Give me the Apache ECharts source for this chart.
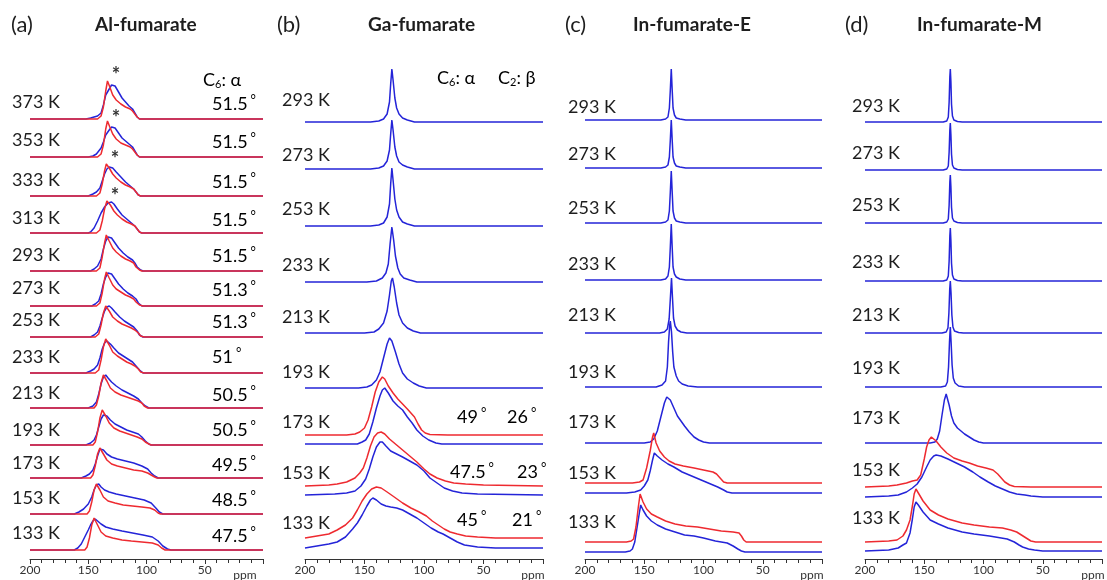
<!DOCTYPE html>
<html><head><meta charset="utf-8">
<script src="https://cdn.jsdelivr.net/npm/echarts@6/dist/echarts.min.js"></script>
<style>html,body{margin:0;padding:0;background:#fff}#c{width:1107px;height:580px}</style>
</head><body><div id="c"></div>
<script>
// ---------------- DATA ----------------
// x = chemical shift (ppm); y = intensity (arbitrary units), each spectrum stacked on its baseline level
const ppmTicks = [200, 150, 100, 50];

// (a) Al-fumarate
const aTemps = ['373 K','353 K','333 K','313 K','293 K','273 K','253 K','233 K','213 K','193 K','173 K','153 K','133 K'];
const aAngles = ['51.5','51.5','51.5','51.5','51.5','51.3','51.3','51','50.5','50.5','49.5','48.5','47.5'];
const aBase = [440,402,363,326,288,253,222,186,151,114,81,45,9];
const aStarred = ['373 K','353 K','333 K','313 K'];
const aExp = [
 [[200,0],[152,0],[148,1],[145,2],[142,3],[139,6],[137,14],[135,24],[132,30],[130,34],[129,36],[127,33],[124,27],[121,21],[118,17],[115,13],[112,10],[110,6],[108,2],[106,0],[0,0]],
 [[200,0],[150,0],[146,1],[143,3],[141,6],[139,9],[137,15],[135,22],[132,27],[130,30],[129,31],[127,29],[124,24],[121,19],[118,16],[115,13],[112,10],[110,6],[108,2],[106,0],[0,0]],
 [[200,0],[150,0],[146,2],[143,4],[140,8],[138,15],[136,22],[134,27],[132,29],[131,30],[129,28],[126,24],[122,19],[118,14],[114,10],[111,7],[109,4],[107,1],[105,0],[0,0]],
 [[200,0],[150,0],[148,1],[145,5],[142,12],[139,20],[136,26],[133,30],[130,31],[128,29],[125,24],[121,18],[117,14],[113,10],[110,7],[108,4],[106,1],[104,0],[0,0]],
 [[200,0],[148,0],[145,2],[142,5],[139,12],[137,22],[135,30],[133,34],[132,35],[130,33],[127,28],[124,23],[120,18],[116,14],[112,11],[110,8],[108,4],[105,1],[103,0],[0,0]],
 [[200,0],[147,0],[144,2],[141,5],[139,12],[137,22],[135,29],[133,33],[132,34],[130,32],[127,27],[124,22],[120,17],[116,13],[112,10],[109,7],[107,3],[104,0],[0,0]],
 [[200,0],[148,0],[145,2],[142,5],[140,11],[138,19],[136,26],[134,30],[132,31],[130,29],[127,25],[123,20],[119,16],[115,13],[111,10],[108,6],[106,2],[103,0],[0,0]],
 [[200,0],[152,0],[148,2],[145,4],[142,8],[140,15],[138,24],[136,30],[134,32],[133,32],[131,29],[128,25],[124,20],[120,17],[116,14],[112,11],[109,7],[106,3],[103,0],[0,0]],
 [[200,0],[150,0],[146,2],[143,6],[141,14],[139,24],[137,31],[135,33],[133,30],[130,26],[126,22],[121,18],[116,15],[111,12],[107,9],[104,5],[101,2],[98,0],[0,0]],
 [[200,0],[152,0],[148,2],[145,5],[143,10],[141,18],[139,26],[137,30],[136,31],[134,29],[131,25],[127,21],[122,18],[117,15],[112,13],[107,11],[104,8],[101,4],[98,1],[96,0],[0,0]],
 [[200,0],[156,0],[152,2],[149,4],[146,8],[144,14],[142,22],[140,29],[139,31],[137,28],[134,24],[130,21],[125,19],[118,17],[111,15],[104,12],[99,9],[96,5],[93,2],[90,0],[0,0]],
 [[200,0],[162,0],[158,2],[154,5],[150,10],[147,17],[145,24],[143,29],[141,30],[139,27],[136,24],[132,22],[126,20],[118,18],[110,16],[102,14],[96,11],[92,6],[89,2],[86,0],[0,0]],
 [[200,0],[162,0],[159,2],[156,6],[153,13],[150,20],[148,25],[146,29],[144,31],[142,29],[139,26],[135,23],[129,21],[121,19],[112,17],[103,15],[95,13],[90,9],[86,4],[82,1],[79,0],[0,0]]
];
const aSim = [
 [[200,0],[142,0],[139,3],[137,12],[135,28],[133.5,38],[133,40],[131.5,32],[129,24],[126,19],[122,15],[118,12],[114,10],[112,8],[110,5],[108,2],[106,0],[0,0]],
 [[200,0],[142,0],[139,3],[137,12],[135,28],[133.5,36],[133,38],[131.5,30],[129,23],[126,18],[122,14],[118,12],[114,10],[112,8],[110,5],[108,2],[106,0],[0,0]],
 [[200,0],[143,0],[140,3],[138,12],[136,25],[134.5,32],[134,33],[132,28],[129,22],[126,18],[122,14],[118,11],[114,9],[111,7],[109,4],[107,1],[105,0],[0,0]],
 [[200,0],[143,0],[140,3],[138,12],[136,24],[134,32],[133,33],[131,28],[128,22],[125,18],[121,14],[117,11],[113,9],[110,7],[108,4],[106,1],[104,0],[0,0]],
 [[200,0],[143,0],[140,3],[138,14],[136,28],[134.5,36],[134,37],[132,30],[129,23],[126,19],[122,15],[118,12],[114,10],[111,8],[109,4],[106,1],[104,0],[0,0]],
 [[200,0],[143,0],[140,3],[138,13],[136,27],[134.5,34],[134,35],[132,28],[129,21],[126,17],[122,14],[118,11],[114,9],[111,7],[109,4],[106,1],[103,0],[0,0]],
 [[200,0],[144,0],[141,3],[139,12],[137,24],[135,31],[134,32],[132,26],[129,20],[125,16],[121,13],[117,11],[113,9],[110,7],[107,4],[105,1],[102,0],[0,0]],
 [[200,0],[144,0],[141,3],[139,13],[137,26],[135,34],[134,35],[132,28],[129,21],[125,17],[121,14],[117,11],[113,9],[110,7],[107,4],[105,1],[102,0],[0,0]],
 [[200,0],[145,0],[143,3],[141,12],[139,25],[137,33],[136,34],[134,27],[131,20],[127,16],[122,13],[117,11],[112,9],[107,7],[104,5],[102,2],[99,0],[0,0]],
 [[200,0],[146,0],[144,3],[142,13],[140,27],[138,35],[137,37],[135,29],[132,22],[128,17],[123,14],[118,12],[113,10],[108,8],[104,6],[101,3],[98,1],[96,0],[0,0]],
 [[200,0],[148,0],[146,3],[144,12],[142,24],[140,30],[139,31],[137,24],[134,18],[130,14],[125,12],[118,10],[111,8],[104,7],[99,5],[96,3],[93,1],[91,0],[0,0]],
 [[200,0],[151,0],[149,3],[147,12],[145,24],[143,30],[142,31],[140,24],[137,17],[133,13],[127,11],[120,9],[112,8],[104,7],[97,6],[93,4],[90,1],[88,0],[0,0]],
 [[200,0],[153,0],[151,3],[149,12],[147,25],[145,32],[144,33],[142,25],[139,18],[135,14],[129,12],[121,10],[113,9],[104,8],[95,7],[90,5],[87,2],[84,0],[0,0]]
];

// (b) Ga-fumarate
const bTemps = ['293 K','273 K','253 K','233 K','213 K','193 K','173 K','153 K','133 K'];
const bAngles = [null,null,null,null,null,null,['49','26'],['47.5','23'],['45','21']];
const bBaseExp = [437,390,333,277,226,171,115,64,11];
const bBaseSim = [null,null,null,null,null,null,124,73,21];
const bExp = [
 [[200,0],[145,0],[138,1],[134,3],[131,8],[129,20],[128,38],[127,53],[126,42],[124.5,24],[123,14],[121,8],[118,4],[114,2],[108,0],[0,0]],
 [[200,0],[145,0],[138,1],[134,3],[131,8],[129,19],[128,35],[127,49],[126,39],[124.5,22],[123,13],[121,7],[118,4],[114,2],[108,0],[0,0]],
 [[200,0],[145,0],[138,1],[134,3],[131,9],[129,22],[128,42],[127,58],[126,46],[124.5,27],[123,16],[121,9],[118,4],[114,2],[108,0],[0,0]],
 [[200,0],[148,0],[140,1],[135,4],[132,9],[130,18],[128.5,38],[127,55],[125.5,42],[124,26],[122,14],[120,8],[117,4],[112,2],[106,0],[0,0]],
 [[200,0],[150,0],[142,1],[138,4],[134,10],[131,22],[129,38],[127.5,52],[126.5,55],[125,46],[123,30],[121,18],[118,10],[114,5],[109,2],[103,0],[0,0]],
 [[200,0],[155,0],[148,1],[144,3],[140,8],[137,16],[134,30],[131,44],[129,50],[127,47],[124,36],[121,24],[118,15],[114,9],[109,5],[104,2],[98,0],[0,0]],
 [[200,0],[156,0],[152,2],[149,4],[146,10],[143,22],[140,36],[137,48],[135,54],[133,56],[130,51],[126,43],[122,38],[118,34],[114,27],[110,21],[106,14],[101,8],[96,4],[90,1],[85,0],[0,0]],
 [[200,0],[175,1],[165,2],[158,4],[153,9],[149,16],[146,26],[143,38],[140,48],[137,53],[135,53],[132,49],[128,44],[123,41],[118,38],[112,34],[106,30],[100,24],[95,17],[89,12],[83,7],[76,4],[68,2],[55,1],[0,0]],
 [[200,0],[190,2],[180,4],[173,6],[166,11],[160,19],[156,25],[152,33],[148,42],[145,48],[143,50],[140,48],[136,44],[132,42],[128,41],[123,40],[118,38],[112,34],[106,30],[100,25],[94,20],[88,16],[84,14],[78,10],[72,6],[66,3],[55,1],[40,0],[0,0]]
];
const bSim = [null,null,null,null,null,null,
 [[200,0],[165,0],[158,1],[154,3],[150,7],[147,15],[144,28],[141,43],[138,53],[135,58],[133,56],[130,49],[126,42],[122,36],[118,31],[114,26],[111,22],[108,18],[105,11],[102,5],[99,2],[95,0.5],[80,0],[0,0]],
 [[200,0],[180,1],[173,2],[165,4],[158,8],[154,13],[151,18],[148,28],[145,40],[142,49],[139,53],[136,54],[133,52],[129,47],[124,42],[118,36],[112,30],[106,24],[100,17],[95,12],[89,8],[82,5],[75,3],[65,2],[50,1],[0,0]],
 [[200,0],[190,2],[180,4],[173,8],[166,13],[160,20],[156,28],[152,37],[148,44],[144,49],[140,51],[136,50],[131,46],[125,41],[118,35],[111,30],[104,26],[98,22],[93,17],[88,13],[83,9],[78,6],[72,4],[65,2],[55,1],[40,0],[0,0]]
];

// (c) In-fumarate-E
const cTemps = ['293 K','273 K','253 K','233 K','213 K','193 K','173 K','153 K','133 K'];
const cBaseExp = [439,391,336,279,226,172,116,66,7];
const cBaseSim = [null,null,null,null,null,null,null,76,17];
const cExp = [
 [[200,0],[136,0],[132,1],[130,3],[128.8,12],[128,30],[127.2,51],[126.5,32],[125.7,12],[124.5,5],[123,2],[120,1],[115,0],[0,0]],
 [[200,0],[136,0],[132,1],[130,3],[128.8,11],[128,28],[127.2,48],[126.5,30],[125.7,11],[124.5,5],[123,2],[120,1],[115,0],[0,0]],
 [[200,0],[136,0],[132,1],[130,3],[128.8,12],[128,31],[127.2,52],[126.5,33],[125.7,12],[124.5,5],[123,2],[120,1],[115,0],[0,0]],
 [[200,0],[136,0],[132,1],[130,4],[128.8,13],[128,33],[127.2,56],[126.5,35],[125.7,13],[124.5,6],[123,3],[120,1],[115,0],[0,0]],
 [[200,0],[137,0],[133,1],[130.5,4],[129,14],[128,34],[127,55],[126.2,36],[125.3,15],[124,7],[122,3],[119,1],[114,0],[0,0]],
 [[200,0],[140,0],[135,2],[132,6],[130.5,20],[129.5,45],[128.5,62],[128,66],[127,55],[126,35],[125,20],[123,11],[121,6],[118,3],[113,1],[105,0],[0,0]],
 [[200,0],[150,0],[145,1],[142,4],[139,12],[136,26],[133,40],[131,46],[130,47],[128,43],[125,35],[122,27],[119,22],[116,17],[112,11],[108,6],[104,3],[100,1],[95,0],[0,0]],
 [[200,0],[165,0],[158,1],[153,3],[150,7],[147,13],[145,22],[143,33],[141.5,40],[139,37],[135,33],[130,29],[125,26],[118,21],[112,18],[106,15],[100,12],[94,9],[88,6],[83,3],[80,1],[76,0],[0,0]],
 [[200,0],[166,0],[162,1],[160,3],[158,10],[156,25],[154,40],[153,47],[151,42],[148,36],[144,31],[139,27],[132,23],[124,20],[116,17],[108,16],[100,14],[90,11],[80,9],[75,6],[71,3],[68,1],[65,0],[0,0]]
];
const cSim = [null,null,null,null,null,null,null,
 [[200,0],[160,0],[154,1],[151,3],[148,15],[145,32],[143,46],[142,50],[140,40],[137,32],[133,26],[129,22],[124,19],[117,17],[108,15],[100,13],[92,11],[89,9],[86,5],[83,1],[80,0],[0,0]],
 [[200,0],[165,0],[161,1],[159,3],[157,15],[155,35],[153.5,48],[153,50],[151,40],[148,33],[144,28],[139,25],[132,21],[124,18],[115,16],[105,15],[95,13],[85,11],[75,10],[70,9],[68,6],[66,2],[64,0],[0,0]]
];

// (d) In-fumarate-M
const dTemps = ['293 K','273 K','253 K','233 K','213 K','193 K','173 K','153 K','133 K'];
const dBaseExp = [437,389,336,278,226,172,116,62,8];
const dBaseSim = [null,null,null,null,null,null,null,72,17];
const dExp = [
 [[200,0],[134,0],[131,1],[129.7,5],[129,20],[128.4,45],[128,53],[127.5,40],[127,18],[126.2,6],[125,2],[122,0.5],[118,0],[0,0]],
 [[200,0],[134,0],[131,1],[129.7,4],[129,18],[128.4,40],[128,47],[127.5,35],[127,16],[126.2,5],[125,2],[122,0.5],[118,0],[0,0]],
 [[200,0],[134,0],[131,1],[129.7,4],[129,18],[128.4,41],[128,48],[127.5,36],[127,16],[126.2,5],[125,2],[122,0.5],[118,0],[0,0]],
 [[200,0],[134,0],[131,1],[129.7,5],[129,20],[128.4,45],[128,53],[127.5,40],[127,18],[126.2,6],[125,2],[122,0.5],[118,0],[0,0]],
 [[200,0],[135,0],[131.5,1],[130,5],[129.2,20],[128.5,44],[128,52],[127.4,40],[126.7,18],[125.8,6],[124.5,2],[121,0.5],[117,0],[0,0]],
 [[200,0],[136,0],[132,1],[130.5,5],[129.5,20],[128.7,45],[128,60],[127.3,44],[126.5,22],[125.5,9],[124,4],[121,1],[116,0],[0,0]],
 [[200,0],[145,0],[141,1],[139,4],[137,12],[135,28],[133,43],[131.5,49],[130.5,47],[129,38],[127,27],[125,20],[122,15],[120,13],[116,9],[112,6],[108,3],[104,1],[100,0],[0,0]],
 [[200,0],[180,1],[172,2],[165,5],[160,9],[156,13],[152,20],[148,30],[145,37],[142,41],[140,42],[136,41],[130,38],[123,34],[116,30],[109,25],[103,20],[96,15],[90,11],[84,8],[78,5],[72,3],[65,2],[60,1],[50,0],[0,0]],
 [[200,0],[180,1],[172,3],[168,6],[165,8],[162,18],[160,32],[158.5,44],[157,49],[155,46],[151,39],[145,31],[138,27],[130,23],[118,19],[108,17],[95,15],[85,13],[80,12],[74,9],[70,6],[67,4],[62,2],[57,1],[50,0],[0,0]]
];
const dSim = [null,null,null,null,null,null,null,
 [[200,0],[180,1],[173,2],[165,4],[160,6],[156,7],[153,12],[150,28],[148,40],[146,47],[144,50],[142.6,51],[140,46],[136,40],[131,34],[125,29],[118,26],[112,24],[105,21],[98,19],[92,17],[88,13],[85,9],[82,5],[78,2],[74,0.5],[60,0],[0,0]],
 [[200,0],[180,1],[173,2],[168,6],[165,12],[162,22],[160,36],[158.5,48],[157,53],[155,49],[151,41],[145,32],[138,27],[130,23],[118,19],[108,17],[95,15],[84,14],[77,12],[72,10],[68,7],[64,4],[60,1],[56,0],[0,0]]
];

// ---------------- LAYOUT / STYLE ----------------
const BLUE = '#2424d8', RED = '#ee2a30', TXT = '#1e1e1e';
const FONT = 'Lato, "Open Sans", sans-serif';
const GRID_TOP = 50, GRID_H = 509;
const panels = [
  {left: 30,  width: 233, letter: '(a)', lx: 11,  title: 'Al-fumarate',   tx: 95,
   temps: aTemps, exp: aExp, sim: aSim, baseExp: aBase, baseSim: aBase,
   labelX: 12, labelY: [102,140,180,218,255,288,320,357,393,430,463,498,533], ppmX: 245},
  {left: 305, width: 238, letter: '(b)', lx: 277, title: 'Ga-fumarate',   tx: 368,
   temps: bTemps, exp: bExp, sim: bSim, baseExp: bBaseExp, baseSim: bBaseSim,
   labelX: 282, labelY: [100,155,209,265,317,372,422,473,523], ppmX: 533},
  {left: 585, width: 237, letter: '(c)', lx: 565, title: 'In-fumarate-E', tx: 633,
   temps: cTemps, exp: cExp, sim: cSim, baseExp: cBaseExp, baseSim: cBaseSim,
   labelX: 568, labelY: [107,154,208,264,315,372,422,473,522], ppmX: 812},
  {left: 865, width: 237, letter: '(d)', lx: 845, title: 'In-fumarate-M', tx: 917,
   temps: dTemps, exp: dExp, sim: dSim, baseExp: dBaseExp, baseSim: dBaseSim,
   labelX: 852, labelY: [106,153,205,262,315,368,418,470,518], ppmX: 1093}
];

const grids = [], xAxes = [], yAxes = [], series = [], graphics = [];
panels.forEach((p, i) => {
  grids.push({left: p.left, width: p.width, top: GRID_TOP, height: GRID_H});
  xAxes.push({
    gridIndex: i, type: 'value', min: 0, max: 200, inverse: true, interval: 50,
    axisLine: {show: true, lineStyle: {color: '#333', width: 1}},
    axisTick: {show: true, length: 5, lineStyle: {color: '#333'}},
    minorTick: {show: true, splitNumber: 5, length: 4, lineStyle: {color: '#333'}},
    splitLine: {show: false},
    axisLabel: {fontSize: 12, color: '#333', fontFamily: FONT, margin: 5,
      formatter: v => (ppmTicks.indexOf(v) >= 0 ? String(v) : '')}
  });
  yAxes.push({gridIndex: i, type: 'value', min: 0, max: GRID_H, show: false});
  p.exp.forEach((pts, k) => {
    series.push({type: 'line', xAxisIndex: i, yAxisIndex: i, showSymbol: false, silent: true,
      animation: false, z: 2, clip: false,
      lineStyle: {color: BLUE, width: 1.5},
      data: pts.map(q => [q[0], q[1] + p.baseExp[k]])});
  });
  p.sim.forEach((pts, k) => {
    if (!pts) return;
    series.push({type: 'line', xAxisIndex: i, yAxisIndex: i, showSymbol: false, silent: true,
      animation: false, z: 3, clip: false,
      lineStyle: {color: RED, width: 1.5},
      data: pts.map(q => [q[0], q[1] + p.baseSim[k]])});
  });
  graphics.push({type: 'text', x: p.lx, y: 25, style: {text: p.letter, font: '22px ' + FONT, fill: TXT, verticalAlign: 'middle'}});
  graphics.push({type: 'text', x: p.tx, y: 25, style: {text: p.title, font: 'bold 19px ' + FONT, fill: TXT, verticalAlign: 'middle'}});
  p.temps.forEach((t, k) => {
    graphics.push({type: 'text', x: p.labelX, y: p.labelY[k], style: {text: t, font: '18px ' + FONT, fill: TXT, verticalAlign: 'middle'}});
  });
  graphics.push({type: 'text', x: p.ppmX, y: 575, style: {text: 'ppm', font: '12px ' + FONT, fill: '#333', align: 'center', verticalAlign: 'middle'}});
});

const richDeg = {
  n: {fontSize: 18, fontFamily: FONT, color: TXT},
  d: {fontSize: 13, fontFamily: FONT, color: TXT, verticalAlign: 'top', padding: [0, 0, 8, 3]},
  c: {fontSize: 18, fontFamily: FONT, color: TXT},
  s: {fontSize: 11, fontFamily: FONT, color: TXT, padding: [8, 0, 0, 0]}
};
function degText(x, y, v) {
  graphics.push({type: 'text', x: x, y: y, style: {text: '{n|' + v + '}{d|°}', rich: richDeg, verticalAlign: 'middle'}});
}
// (a) angle column
const aAngleY = [104,142,182,220,256,290,322,357,395,430,465,500,536];
aAngles.forEach((v, k) => degText(212, aAngleY[k], v));
graphics.push({type: 'text', x: 203, y: 80, style: {text: '{c|C}{s|6}{c|: α}', rich: richDeg, verticalAlign: 'middle'}});
// asterisks (a)
const starPos = [[116, 76], [116, 119], [115, 160], [115, 197]];
aStarred.forEach((t, k) => graphics.push({type: 'text', x: starPos[k][0], y: starPos[k][1],
  style: {text: '*', font: 'bold 20px ' + FONT, fill: '#333', align: 'center', verticalAlign: 'middle'}}));
// (b) angle labels
graphics.push({type: 'text', x: 437, y: 78, style: {text: '{c|C}{s|6}{c|: α}', rich: richDeg, verticalAlign: 'middle'}});
graphics.push({type: 'text', x: 498, y: 78, style: {text: '{c|C}{s|2}{c|: β}', rich: richDeg, verticalAlign: 'middle'}});
const bAngleX = [[457, 507], [450, 517], [457, 512]];
const bAngleY = [417, 472, 520];
bAngles.forEach((pair, k) => {
  if (!pair) return;
  const j = k - 6;
  degText(bAngleX[j][0], bAngleY[j], pair[0]);
  degText(bAngleX[j][1], bAngleY[j], pair[1]);
});

const chart = echarts.init(document.getElementById('c'), null, {renderer: 'canvas'});
chart.setOption({
  backgroundColor: '#fff', animation: false,
  grid: grids, xAxis: xAxes, yAxis: yAxes, series: series, graphic: graphics
});
</script></body></html>
